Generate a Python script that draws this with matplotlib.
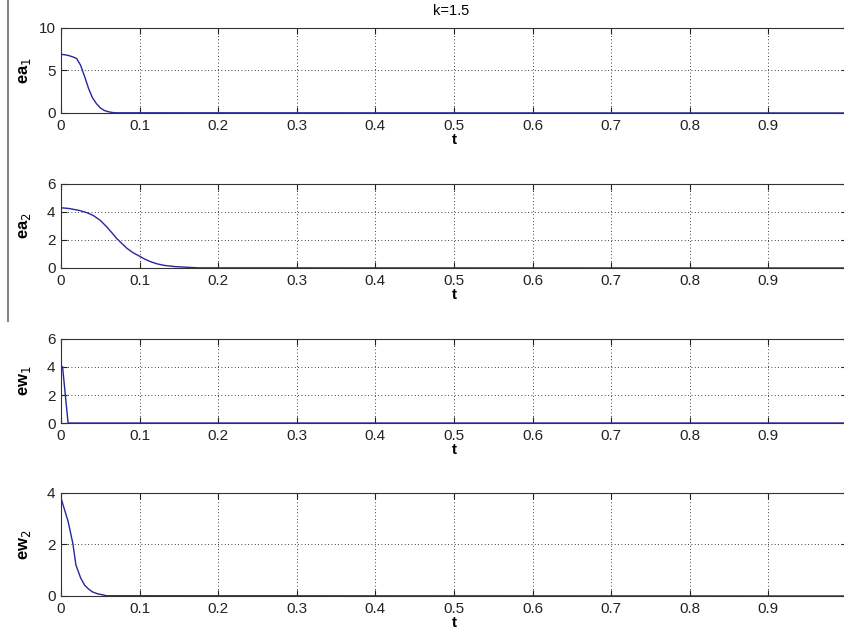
import matplotlib.pyplot as plt
from matplotlib.lines import Line2D

plt.rcParams['font.family'] = ['Liberation Sans', 'DejaVu Sans']

# values
t_ea1 = [0, 0.005, 0.01, 0.015, 0.02, 0.025, 0.03, 0.035, 0.04, 0.045, 0.05, 0.055, 0.06, 0.065, 0.07, 1.0]
ea1 = [6.9, 6.85, 6.75, 6.6, 6.4, 5.6, 4.3, 2.9, 1.8, 1.1, 0.6, 0.3, 0.15, 0.06, 0.02, 0.0]

t_ea2 = [0, 0.01, 0.024, 0.033, 0.041, 0.05, 0.058, 0.065, 0.071, 0.078, 0.084, 0.092, 0.1,
         0.107, 0.114, 0.122, 0.131, 0.145, 0.161, 0.175, 1.0]
ea2 = [4.3, 4.25, 4.1, 3.95, 3.75, 3.4, 2.95, 2.5, 2.1, 1.72, 1.4, 1.08, 0.84, 0.62, 0.45, 0.3,
       0.19, 0.1, 0.05, 0.01, 0.0]

t_ew1 = [0, 0.002, 0.009, 1.0]
ew1 = [4.1, 4.0, 0.0, 0.0]

t_ew2 = [0, 0.004, 0.009, 0.015, 0.019, 0.025, 0.03, 0.035, 0.04, 0.046, 0.052, 0.058, 1.0]
ew2 = [3.8, 3.4, 2.9, 2.05, 1.2, 0.7, 0.42, 0.27, 0.16, 0.09, 0.05, 0.01, 0.0]

xticks = [0, 0.1, 0.2, 0.3, 0.4, 0.5, 0.6, 0.7, 0.8, 0.9, 1.0]
xticklabels = ['0', '0.1', '0.2', '0.3', '0.4', '0.5', '0.6', '0.7', '0.8', '0.9', '1']

panels = [
    (t_ea1, ea1, r'ea$_1$', [0, 5, 10]),
    (t_ea2, ea2, r'ea$_2$', [0, 2, 4, 6]),
    (t_ew1, ew1, r'ew$_1$', [0, 2, 4, 6]),
    (t_ew2, ew2, r'ew$_2$', [0, 2, 4]),
]

# axes rectangles [left, bottom, width, height] in figure fractions
rects = [
    [0.0722, 0.8232, 0.930, 0.1330],
    [0.0722, 0.5806, 0.930, 0.1315],
    [0.0722, 0.3380, 0.930, 0.1315],
    [0.0722, 0.0673, 0.930, 0.1612],
]

fig = plt.figure(figsize=(8.45, 6.39), dpi=100)

for (t, y, name, yt), rect in zip(panels, rects):
    ax = fig.add_axes(rect)
    ax.plot(t, y, color='#26269c', lw=1.0)
    ax.set_xlim(0, 1)
    ax.set_ylim(yt[0], yt[-1])
    ax.set_xticks(xticks)
    ax.set_xticklabels(xticklabels)
    ax.set_yticks(yt)
    ax.grid(True, linestyle=(0, (1, 3)), color='black', lw=0.6)
    ax.tick_params(direction='in', top=True, right=True, labelsize=11, length=4,
                   width=0.8, pad=4, colors='#222222')
    for s in ax.spines.values():
        s.set_color('#333333')
        s.set_linewidth(0.8)
    ax.set_xlabel('t', fontsize=11, fontweight='bold', labelpad=0)
    ax.set_ylabel(name, fontsize=12, fontweight='bold')
    ax.yaxis.set_label_coords(-0.036, 0.5)

fig.text(0.534, 0.983, 'k=1.5', ha='center', va='center', fontsize=10.5)

# gray vertical stroke at the left edge
fig.add_artist(Line2D([0.0095, 0.0095], [1.0, 1 - 321 / 639], color='#888888', lw=1.5))

fig.savefig('out.png', dpi=100)
